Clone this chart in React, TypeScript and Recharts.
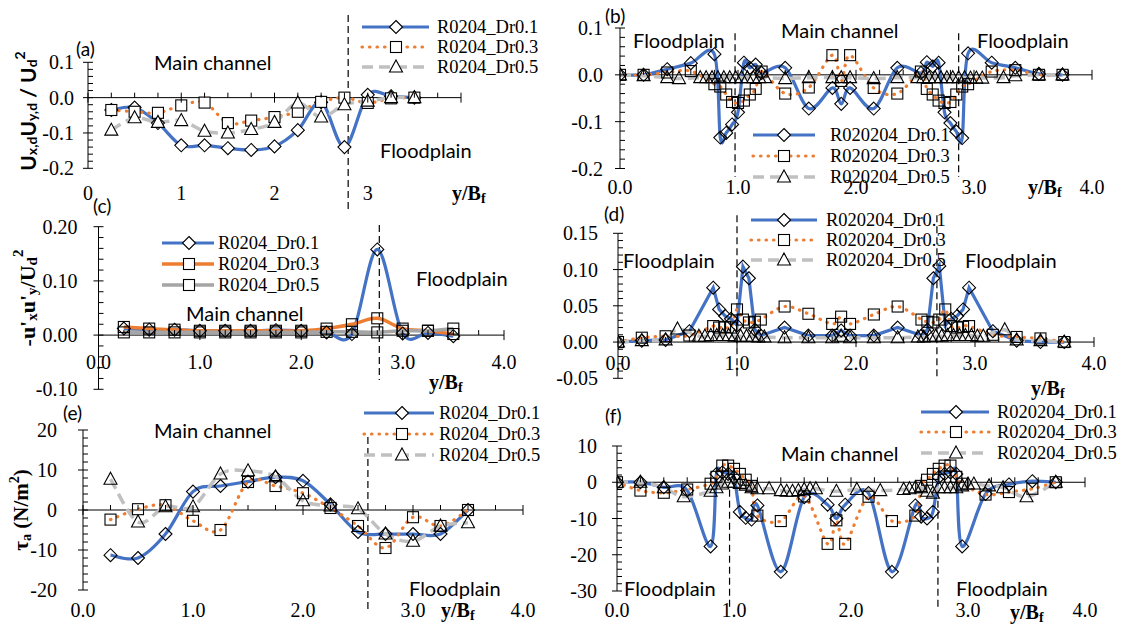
import React from 'react';
import { LineChart, Line, XAxis, YAxis, ReferenceLine } from 'recharts';

const BLUE = '#4472C4';
const ORANGE = '#ED7D31';
const GRAY = '#A5A5A5';
const LGRAY = '#C0C0C0';
const SERIF = '"Liberation Serif", "Times New Roman", serif';
const SANS = 'Lato, "Noto Sans", sans-serif';

// ---- data: left column (R0204), stations every 0.25 y/Bf
const A_X = [0.25, 0.5, 0.75, 1, 1.25, 1.5, 1.75, 2, 2.25, 2.5, 2.75, 3, 3.25, 3.5];
const A_DR01 = [-0.035, -0.028, -0.072, -0.135, -0.135, -0.143, -0.148, -0.138, -0.092, -0.013, -0.14, 0.008, 0.004, 0.0];
const A_DR03 = [-0.035, -0.04, -0.043, -0.022, -0.014, -0.072, -0.065, -0.055, -0.04, -0.012, 0.0, -0.015, -0.002, 0.0];
const A_DR05 = [-0.092, -0.057, -0.07, -0.065, -0.095, -0.1, -0.09, -0.07, -0.015, -0.055, -0.02, -0.01, 0.0, 0.0];

const C_DR01 = [0.012, 0.01, 0.01, 0.008, 0.008, 0.008, 0.009, 0.008, 0.005, 0.002, 0.158, 0.003, 0.004, -0.002];
const C_DR03 = [0.015, 0.012, 0.01, 0.008, 0.008, 0.008, 0.008, 0.008, 0.012, 0.02, 0.031, 0.012, 0.008, 0.002];
const C_DR05 = [0.005, 0.005, 0.005, 0.005, 0.005, 0.005, 0.005, 0.005, 0.006, 0.006, 0.005, 0.008, 0.008, 0.012];

const E_DR01 = [-11.3, -12, -6, 4.6, 6, 7.1, 8.2, 7.3, 1.4, -5.5, -6, -6, -6, 0];
const E_DR03 = [-2.4, 0.2, 1.2, -2.7, -5, 7, 6, 4.2, 0.5, -4, -9.5, -1.8, -4, 0];
const E_DR05 = [7.7, -3, 0.8, 0.8, 9, 9.8, 8.3, 2.3, 1, 0.3, -6, -7.8, -4, -3.2];

// ---- data: right column (R020204)
const R_X = [0, 0.2, 0.4, 0.6, 0.8, 0.85, 0.9, 0.95, 1, 1.05, 1.1, 1.15, 1.2, 1.4, 1.6, 1.8, 1.875, 1.95, 2.15, 2.35, 2.55, 2.6, 2.65, 2.7, 2.75, 2.8, 2.85, 2.9, 2.95, 3.15, 3.35, 3.55, 3.75];
const R_X5 = [0, 0.2, 0.4, 0.5, 0.68, 0.73, 0.78, 0.83, 0.88, 0.93, 0.98, 1.03, 1.08, 1.13, 1.18, 1.23, 1.4, 1.6, 1.8, 1.875, 1.95, 2.15, 2.35, 2.52, 2.57, 2.62, 2.67, 2.72, 2.77, 2.82, 2.87, 2.92, 2.97, 3.02, 3.07, 3.25, 3.35, 3.55, 3.75];

const B_DR01 = [0, 0, 0.012, 0.025, 0.044, -0.134, -0.124, -0.106, -0.08, 0.026, 0.015, 0.022, 0.004, 0.015, -0.072, -0.028, -0.062, -0.028, -0.072, 0.015, 0.004, 0.027, 0.018, 0.026, -0.08, -0.103, -0.121, -0.135, 0.046, 0.026, 0.015, 0.002, 0];
const B_DR03 = [0, 0, 0.005, 0.008, -0.02, -0.025, -0.042, -0.058, -0.06, -0.055, -0.042, -0.03, 0.007, -0.04, -0.027, 0.042, -0.013, 0.042, -0.028, -0.04, 0.007, -0.03, -0.042, -0.055, -0.06, -0.058, -0.042, -0.025, -0.02, 0.007, 0.01, 0, 0];
const B_DR05 = [0, -0.002, -0.006, -0.008, -0.006, -0.006, -0.006, -0.006, -0.006, -0.006, -0.006, -0.006, -0.006, -0.006, -0.006, -0.006, -0.008, -0.006, -0.006, -0.006, -0.006, -0.008, -0.006, -0.006, -0.006, -0.006, -0.006, -0.006, -0.006, -0.006, -0.006, -0.006, -0.007, -0.007, -0.007, -0.006, -0.002, 0, 0];

const D_DR01 = [0, 0.002, 0.003, 0.015, 0.075, 0.045, 0.036, 0.032, 0.023, 0.104, 0.088, 0.017, 0.009, 0.02, 0.009, 0.009, 0.016, 0.009, 0.009, 0.02, 0.009, 0.017, 0.088, 0.105, 0.023, 0.032, 0.036, 0.045, 0.075, 0.015, 0.002, 0, 0];
const D_DR03 = [0, 0.006, 0.008, 0.009, 0.022, 0.02, 0.021, 0.02, 0.045, 0.031, 0.027, 0.028, 0.031, 0.049, 0.039, 0.025, 0.035, 0.025, 0.038, 0.049, 0.031, 0.028, 0.027, 0.031, 0.045, 0.022, 0.02, 0.021, 0.022, 0.01, 0.007, 0.005, 0];
const D_DR05 = [0, 0.002, 0.003, 0.018, 0.008, 0.008, 0.009, 0.009, 0.009, 0.009, 0.008, 0.008, 0.008, 0.008, 0.007, 0.007, 0.006, 0.006, 0.006, 0.008, 0.006, 0.006, 0.006, 0.007, 0.007, 0.008, 0.008, 0.008, 0.009, 0.009, 0.009, 0.009, 0.009, 0.008, 0.008, 0.017, 0.003, 0.002, 0];

const F_DR01 = [0, 0, -1.4, -2.3, -17.7, 2.3, 2.7, 2.3, 1.4, -8.2, -9.8, -10.3, -6.4, -24.7, -4.1, -6.2, -10, -6.2, -3, -24.7, -6.4, -9.5, -10, -8.2, 1.4, 2.3, 2.7, 2.3, -17.7, -3.2, -0.6, 0.3, 0];
const F_DR03 = [0, -2.3, -2.9, -2, -0.4, 1.5, 4.6, 4.6, 3.7, 2.3, 0.7, -1, -9.2, -10.7, -3.9, -17, -10.5, -17, -4, -10.7, -9.2, -1, 0.7, 2.3, 3.7, 4.6, 4.6, 1.5, -0.4, -3.4, -2.7, -1.8, 0];
const F_X5 = [0, 0.2, 0.4, 0.57, 0.8, 0.85, 0.9, 0.95, 1, 1.05, 1.1, 1.15, 1.2, 1.3, 1.4, 1.45, 1.5, 1.55, 1.6, 1.65, 1.7, 1.875, 2.05, 2.25, 2.45, 2.5, 2.55, 2.6, 2.65, 2.7, 2.75, 2.8, 2.85, 2.9, 2.95, 3, 3.05, 3.18, 3.3, 3.5, 3.75];
const F_DR05 = [0, 0, -1.5, -4, -2.5, -1.5, -0.5, 0, 0, -0.3, -0.8, -1.5, -1.8, -1.8, -2.3, -2.5, -2.5, -2.3, -2, -1.8, -1.8, -2.5, -2, -2.3, -2, -1.8, -1.5, -1.5, -2.5, -3, -1.5, -1.5, -1.5, -1.5, -1, -0.5, -0.5, -1, -1.5, -4, 0];

const L_NAMES = ['R0204_Dr0.1', 'R0204_Dr0.3', 'R0204_Dr0.5'];
const R_NAMES = ['R020204_Dr0.1', 'R020204_Dr0.3', 'R020204_Dr0.5'];

const zip = (xs: number[], ys: number[]) => xs.map((x, i) => ({ x, y: ys[i] }));
const range = (a: number, b: number, step: number) => {
  const n = Math.round((b - a) / step);
  return Array.from({ length: n + 1 }, (_, i) => +(a + i * step).toFixed(6));
};

// Excel-style smoothed line (Catmull-Rom through the points)
const smooth = (context: any) => {
  let pts: number[][] = [];
  return {
    areaStart() {},
    areaEnd() {},
    lineStart() { pts = []; },
    point(x: number, y: number) { pts.push([+x, +y]); },
    lineEnd() {
      const n = pts.length;
      if (!n) return;
      context.moveTo(pts[0][0], pts[0][1]);
      for (let i = 0; i < n - 1; i++) {
        const p0 = pts[i - 1] || pts[i];
        const p1 = pts[i];
        const p2 = pts[i + 1];
        const p3 = pts[i + 2] || p2;
        context.bezierCurveTo(
          p1[0] + (p2[0] - p0[0]) / 6, p1[1] + (p2[1] - p0[1]) / 6,
          p2[0] - (p3[0] - p1[0]) / 6, p2[1] - (p3[1] - p1[1]) / 6,
          p2[0], p2[1]
        );
      }
    },
  };
};

type Style = { color: string; width: number; dash?: string; cap?: string; marker: string };
const S01: Style = { color: BLUE, width: 3.2, marker: 'diamond' };
const S03: Style = { color: ORANGE, width: 3.2, dash: '0.5 7', cap: 'round', marker: 'square' };
const S05: Style = { color: LGRAY, width: 3.5, dash: '11 6', marker: 'triangle' };
const S03C: Style = { color: ORANGE, width: 3.4, marker: 'square' };
const S05C: Style = { color: GRAY, width: 3.6, marker: 'square' };

const MarkerShape = ({ cx, cy, kind, fill }: any) => {
  if (cx == null || cy == null || isNaN(cx) || isNaN(cy)) return null;
  const sp = { fill, stroke: '#000', strokeWidth: 1.1 };
  if (kind === 'diamond') return <path d={`M${cx},${cy - 6.5}L${cx + 6.5},${cy}L${cx},${cy + 6.5}L${cx - 6.5},${cy}Z`} {...sp} />;
  if (kind === 'square') return <rect x={cx - 5.5} y={cy - 5.5} width={11} height={11} {...sp} />;
  return <path d={`M${cx},${cy - 7}L${cx + 6.5},${cy + 5}L${cx - 6.5},${cy + 5}Z`} {...sp} />;
};

const PANELS: any[] = [
  {
    box: { left: 15, top: 5, width: 490, height: 212 }, plot: { x0: 88, x1: 461, y0: 62.3, y1: 168.3 },
    yMin: -0.2, yMax: 0.1, yMajor: 0.1, yMinor: 0.02, yDigits: 1, yGap: 14,
    xMinor: 0.25, xLabels: [0, 1, 2, 3], xDigits: 0, xLabelY: 193, fill: '#fff',
    vlines: [{ x: 2.79, y1: 0.234, y2: -0.318 }],
    series: [
      { data: zip(A_X, A_DR01), st: S01, curve: smooth },
      { data: zip(A_X, A_DR03), st: S03, curve: smooth },
      { data: zip(A_X, A_DR05), st: S05, curve: smooth },
    ],
  },
  {
    box: { left: 555, top: 8, width: 562, height: 198 }, plot: { x0: 620, x1: 1092, y0: 28, y1: 168.5 },
    yMin: -0.2, yMax: 0.1, yMajor: 0.1, yMinor: 0.02, yDigits: 1, yGap: 17,
    xMinor: 0.2, xLabels: [0, 1, 2, 3, 4], xDigits: 1, xLabelY: 187, fill: 'none',
    vlines: [{ x: 0.975, y1: 0.089, y2: -0.218 }, { x: 2.87, y1: 0.089, y2: -0.218 }],
    series: [
      { data: zip(R_X, B_DR01), st: S01, curve: smooth },
      { data: zip(R_X, B_DR03), st: S03, curve: smooth },
      { data: zip(R_X5, B_DR05), st: S05, curve: smooth },
    ],
  },
  {
    box: { left: 15, top: 212, width: 505, height: 190 }, plot: { x0: 98.5, x1: 504, y0: 226.7, y1: 389.3 },
    yMin: -0.1, yMax: 0.2, yMajor: 0.1, yMinor: 0.02, yDigits: 2, yGap: 21,
    xMinor: 0.25, xLabels: [0, 1, 2, 3, 4], xDigits: 1, xLabelY: 362, fill: 'none',
    vlines: [{ x: 2.77, y1: 0.203, y2: -0.083 }],
    series: [
      { data: zip(A_X, C_DR01), st: S01, curve: smooth },
      { data: zip(A_X, C_DR03), st: S03C, curve: smooth },
      { data: zip(A_X, C_DR05), st: S05C, curve: smooth },
    ],
  },
  {
    box: { left: 555, top: 205, width: 562, height: 195 }, plot: { x0: 618, x1: 1094, y0: 233.3, y1: 378.3 },
    yMin: -0.05, yMax: 0.15, yMajor: 0.05, yMinor: 0.01, yDigits: 2, yGap: 20,
    xMinor: 0.2, xLabels: [0, 1, 2, 3, 4], xDigits: 1, xLabelY: 363, fill: 'none',
    vlines: [{ x: 1.0, y1: 0.175, y2: -0.048 }, { x: 2.68, y1: 0.175, y2: -0.048 }],
    series: [
      { data: zip(R_X, D_DR01), st: S01, curve: 'linear' },
      { data: zip(R_X, D_DR03), st: S03, curve: smooth },
      { data: zip(R_X5, D_DR05), st: S05, curve: smooth },
    ],
  },
  {
    box: { left: 15, top: 418, width: 525, height: 208 }, plot: { x0: 83, x1: 523, y0: 430, y1: 590 },
    yMin: -20, yMax: 20, yMajor: 10, yMinor: 2, yDigits: 0, yGap: 26,
    xMinor: 0.25, xLabels: [0, 1, 2, 3, 4], xDigits: 1, xLabelY: 610, fill: 'none',
    vlines: [{ x: 2.59, y1: 18.25, y2: -25 }],
    series: [
      { data: zip(A_X, E_DR01), st: S01, curve: smooth },
      { data: zip(A_X, E_DR03), st: S03, curve: smooth },
      { data: zip(A_X, E_DR05), st: S05, curve: smooth },
    ],
  },
  {
    box: { left: 555, top: 432, width: 562, height: 195 }, plot: { x0: 617, x1: 1085, y0: 446, y1: 591 },
    yMin: -30, yMax: 10, yMajor: 10, yMinor: 2, yDigits: 0, yGap: 20,
    xMinor: 0.2, xLabels: [0, 1, 2, 3, 4], xDigits: 1, xLabelY: 610, fill: 'none',
    vlines: [{ x: 0.962, y1: -2.1, y2: -34.7 }, { x: 2.743, y1: -2.1, y2: -34.7 }],
    series: [
      { data: zip(R_X, F_DR01), st: S01, curve: smooth },
      { data: zip(R_X, F_DR03), st: S03, curve: smooth },
      { data: zip(F_X5, F_DR05), st: S05, curve: smooth },
    ],
  },
];

const isOn = (v: number, step: number) => Math.abs(v / step - Math.round(v / step)) < 1e-6;

function Panel({ cfg }: any) {
  const { box, plot } = cfg;
  const yAxisW = plot.x0 - box.left;
  const xAxisH = box.top + box.height - plot.y1;
  const zeroY = plot.y0 + (cfg.yMax / (cfg.yMax - cfg.yMin)) * (plot.y1 - plot.y0) - box.top;
  const labelY = cfg.xLabelY - box.top;

  const XTick = (p: any) => {
    const v = p.payload.value;
    const major = isOn(v, 1);
    const show = cfg.xLabels.some((l: number) => Math.abs(l - v) < 1e-6);
    return (
      <g>
        <line x1={p.x} x2={p.x} y1={zeroY - 5} y2={major ? zeroY + 5 : zeroY} stroke="#000" strokeWidth={1} />
        {show && (
          <text x={p.x} y={labelY} textAnchor="middle" dominantBaseline="central" fontFamily={SERIF} fontSize={20} fill="#000">
            {v.toFixed(cfg.xDigits)}
          </text>
        )}
      </g>
    );
  };

  const YTick = (p: any) => {
    const v = p.payload.value;
    const major = isOn(v, cfg.yMajor);
    return (
      <g>
        <line x1={major ? yAxisW - 5 : yAxisW} x2={yAxisW + 5} y1={p.y} y2={p.y} stroke="#000" strokeWidth={1} />
        {major && (
          <text x={yAxisW - cfg.yGap} y={p.y} textAnchor="end" dominantBaseline="central" fontFamily={SERIF} fontSize={20} fill="#000">
            {v.toFixed(cfg.yDigits)}
          </text>
        )}
      </g>
    );
  };

  return (
    <div style={{ position: 'absolute', left: box.left, top: box.top }}>
      <LineChart width={box.width} height={box.height} margin={{ top: plot.y0 - box.top, right: box.left + box.width - plot.x1, bottom: 0, left: 0 }}>
        <XAxis type="number" dataKey="x" domain={[0, 4]} ticks={range(0, 4, cfg.xMinor)} interval={0}
          axisLine={false} tickLine={false} height={xAxisH} tick={XTick} allowDataOverflow />
        <YAxis type="number" domain={[cfg.yMin, cfg.yMax]} ticks={range(cfg.yMin, cfg.yMax, cfg.yMinor)} interval={0}
          width={yAxisW} axisLine={{ stroke: '#000', strokeWidth: 1 }} tickLine={false} tick={YTick} allowDataOverflow />
        <ReferenceLine y={0} stroke="#000" strokeWidth={1} />
        {cfg.vlines.map((v: any, i: number) => (
          <ReferenceLine key={`v${i}`} segment={[{ x: v.x, y: v.y1 }, { x: v.x, y: v.y2 }]} stroke="#000" strokeWidth={1.2}
            strokeDasharray="7 4" ifOverflow="visible" />
        ))}
        {cfg.series.map((s: any, i: number) => (
          <Line key={`s${i}`} data={s.data} dataKey="y" type={s.curve} stroke={s.st.color} strokeWidth={s.st.width}
            strokeDasharray={s.st.dash} strokeLinecap={s.st.cap || 'butt'} activeDot={false} isAnimationActive={false}
            dot={(p: any) => <MarkerShape key={`m${i}-${p.index}`} cx={p.cx} cy={p.cy} kind={s.st.marker} fill={cfg.fill} />} />
        ))}
      </LineChart>
    </div>
  );
}

const LegendBox = ({ names, styles, x0, x1, mx, tx, ys, fill }: any) => (
  <g>
    {names.map((n: string, i: number) => {
      const st = styles[i];
      return (
        <g key={n}>
          <line x1={x0} x2={x1} y1={ys[i]} y2={ys[i]} stroke={st.color} strokeWidth={st.width}
            strokeDasharray={st.dash} strokeLinecap={st.cap || 'butt'} />
          <MarkerShape cx={mx} cy={ys[i]} kind={st.marker} fill={fill} />
          <text x={tx} y={ys[i]} dominantBaseline="central" fontFamily={SERIF} fontSize={18.5} fill="#000">{n}</text>
        </g>
      );
    })}
  </g>
);

const Note = ({ x, y, children, size = 20 }: any) => (
  <text x={x} y={y} dominantBaseline="central" fontFamily={SANS} fontSize={size} fill="#000">{children}</text>
);

const XTitle = ({ x, y }: any) => (
  <text x={x} y={y} dominantBaseline="central" fontFamily={SERIF} fontSize={20} fontWeight="bold" fill="#000">
    y/B<tspan dy={5} fontSize={14}>f</tspan>
  </text>
);

export default function App() {
  return (
    <div style={{ position: 'absolute', left: 0, top: 0, width: 1121, height: 632, background: '#fff', overflow: 'hidden' }}>
      {PANELS.map((p, i) => <Panel key={i} cfg={p} />)}
      <svg width={1121} height={632} style={{ position: 'absolute', left: 0, top: 0, pointerEvents: 'none' }}>
        {/* legends */}
        <LegendBox names={L_NAMES} styles={[S01, S03, S05]} x0={362} x1={429} mx={396} tx={437} ys={[27, 47, 67]} fill="#fff" />
        <LegendBox names={R_NAMES} styles={[S01, S03, S05]} x0={753} x1={815} mx={784} tx={830} ys={[135, 156, 177]} fill="#fff" />
        <LegendBox names={L_NAMES} styles={[S01, S03C, S05C]} x0={162} x1={214} mx={189} tx={218} ys={[243, 264, 285]} fill="#fff" />
        <LegendBox names={R_NAMES} styles={[S01, S03, S05]} x0={751} x1={817} mx={784} tx={826} ys={[220, 240, 260]} fill="#fff" />
        <LegendBox names={L_NAMES} styles={[S01, S03, S05]} x0={364} x1={434} mx={402} tx={439} ys={[413, 434, 455]} fill="#fff" />
        <LegendBox names={R_NAMES} styles={[S01, S03, S05]} x0={921} x1={989} mx={956} tx={997} ys={[412, 432, 453]} fill="#fff" />

        {/* panel (a) */}
        <Note x={76} y={48} size={19}>(a)</Note>
        <Note x={154} y={62}>Main channel</Note>
        <Note x={380} y={150}>Floodplain</Note>
        <XTitle x={452} y={193} />
        <text transform="translate(27,111) rotate(-90)" textAnchor="middle" dominantBaseline="central" fontFamily={SANS} fontWeight="bold" fontSize={21} fill="#000">
          U<tspan dy={4} fontSize={14}>x,d</tspan><tspan dy={-4}>U</tspan><tspan dy={4} fontSize={14}>y,d</tspan><tspan dy={-4}> / U</tspan><tspan dy={4} fontSize={14}>d</tspan><tspan dy={-12} fontSize={14}>2</tspan>
        </text>

        {/* panel (b) */}
        <Note x={605} y={15} size={19}>(b)</Note>
        <Note x={633} y={40}>Floodplain</Note>
        <Note x={781} y={30}>Main channel</Note>
        <Note x={977} y={40}>Floodplain</Note>
        <XTitle x={1028} y={187} />

        {/* panel (c) */}
        <Note x={93} y={205} size={19}>(c)</Note>
        <Note x={186} y={313}>Main channel</Note>
        <Note x={416} y={278}>Floodplain</Note>
        <XTitle x={429} y={382} />
        <text transform="translate(27,298) rotate(-90)" textAnchor="middle" dominantBaseline="central" fontFamily={SERIF} fontWeight="bold" fontSize={22} fill="#000">
          -u'<tspan dy={5} fontSize={15}>x</tspan><tspan dy={-5}>u'</tspan><tspan dy={5} fontSize={15}>y</tspan><tspan dy={-5}>/U</tspan><tspan dy={5} fontSize={15}>d</tspan><tspan dy={-14} fontSize={15}>2</tspan>
        </text>

        {/* panel (d) */}
        <Note x={604} y={213} size={19}>(d)</Note>
        <Note x={623} y={260}>Floodplain</Note>
        <Note x={965} y={260}>Floodplain</Note>
        <XTitle x={1031} y={388} />

        {/* panel (e) */}
        <Note x={63} y={412} size={19}>(e)</Note>
        <Note x={154} y={430}>Main channel</Note>
        <Note x={409} y={588}>Floodplain</Note>
        <XTitle x={441} y={610} />
        <text transform="translate(21,510) rotate(-90)" textAnchor="middle" dominantBaseline="central" fontFamily={SERIF} fontWeight="bold" fontSize={21} fill="#000">
          τ<tspan dy={5} fontSize={14}>a</tspan><tspan dy={-5}> (N/m</tspan><tspan dy={-7} fontSize={14}>2</tspan><tspan dy={7}>)</tspan>
        </text>

        {/* panel (f) */}
        <Note x={605} y={415} size={19}>(f)</Note>
        <Note x={781} y={453}>Main channel</Note>
        <Note x={624} y={588}>Floodplain</Note>
        <Note x={956} y={588}>Floodplain</Note>
        <XTitle x={1010} y={612} />
      </svg>
    </div>
  );
}
